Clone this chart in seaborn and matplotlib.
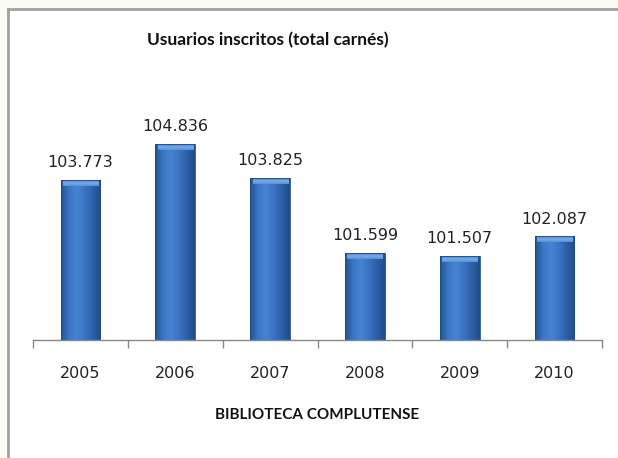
import matplotlib
matplotlib.use("Agg")
import matplotlib.pyplot as plt
import seaborn as sns
import numpy as np
import pandas as pd
from matplotlib.colors import LinearSegmentedColormap

years = ["2005", "2006", "2007", "2008", "2009", "2010"]
usuarios = [103773, 104836, 103825, 101599, 101507, 102087]
labels = ["103.773", "104.836", "103.825", "101.599", "101.507", "102.087"]
title = "Usuarios inscritos (total carnés)"
xlabel = "BIBLIOTECA COMPLUTENSE"

sns.set_theme(style="white")
plt.rcParams["font.family"] = ["DejaVu Sans"]

df = pd.DataFrame({"year": years, "value": usuarios})
ymin, ymax = 99000, 106000

fig = plt.figure(figsize=(6.18, 4.58), dpi=100)
fig.patch.set_facecolor("#fbfbf6")
# white chart area with gray top/left border
bg = fig.add_axes([8 / 618, 0, 1, 1 - 9 / 458])
bg.set_xticks([]); bg.set_yticks([])
bg.set_facecolor("white")
for s in ["right", "bottom"]:
    bg.spines[s].set_visible(False)
for s in ["top", "left"]:
    bg.spines[s].set_color("#a0a0a0")
    bg.spines[s].set_linewidth(2)
bg.set_zorder(0)

ax = fig.add_axes([33 / 618, 1 - 340 / 458, (602 - 33) / 618, (340 - 105) / 458])
ax.set_zorder(1)
ax.patch.set_alpha(0)
sns.barplot(data=df, x="year", y="value", color="#3a73c0", width=0.42, ax=ax,
            saturation=1)

cmap = LinearSegmentedColormap.from_list(
    "bar", ["#22548f", "#3b77c6", "#4783d2", "#3a74c2", "#2c60a8", "#214d88"])
grad = np.linspace(0, 1, 64).reshape(1, -1)
top_cmap = LinearSegmentedColormap.from_list("top", ["#4a86d4", "#78abe8", "#5a94dc"])
bev = 6 * (ymax - ymin) / 235
for p in list(ax.patches):
    x0, w = p.get_x(), p.get_width()
    top = p.get_y() + p.get_height()
    p.set_y(ymin)
    p.set_height(top - ymin)
    im = ax.imshow(grad, cmap=cmap, extent=[x0, x0 + w, ymin, top],
                   aspect="auto", zorder=2)
    im.set_clip_path(p)
    ax.imshow(np.linspace(0, 1, 8).reshape(-1, 1), cmap=top_cmap,
              extent=[x0 + w * 0.06, x0 + w * 0.94, top - bev, top],
              aspect="auto", zorder=3)
    p.set_facecolor("none")
    p.set_edgecolor("#1e4a85")
    p.set_linewidth(0.6)
    p.set_zorder(4)

ax.set_ylim(ymin, ymax)
ax.set_xlim(-0.5, 5.5)

for i, (v, lab) in enumerate(zip(usuarios, labels)):
    ax.annotate(lab, (i, v), xytext=(0, 7), textcoords="offset points",
                ha="center", va="bottom", fontsize=11.5, color="#222222")

for s in ["top", "right", "left"]:
    ax.spines[s].set_visible(False)
ax.spines["bottom"].set_color("#888888")
ax.spines["bottom"].set_linewidth(1)
ax.spines["bottom"].set_zorder(5)
ax.set_yticks([])
ax.set_xticks([i - 0.5 for i in range(7)], minor=True)
ax.tick_params(axis="x", which="minor", length=6, color="#888888", width=1,
               direction="out", bottom=True)
ax.tick_params(axis="x", which="major", length=0, pad=19, labelsize=11.5,
               labelcolor="#222222")
ax.set_ylabel("")
ax.set_xlabel(xlabel, fontsize=11, fontweight="bold", family="Lato",
              labelpad=19, color="#111111")

fig.text(268 / 618, 1 - 40 / 458, title, ha="center", va="center",
         fontsize=12.5, fontweight="bold", family="Lato", color="#111111")

fig.savefig("out.png", dpi=100)
